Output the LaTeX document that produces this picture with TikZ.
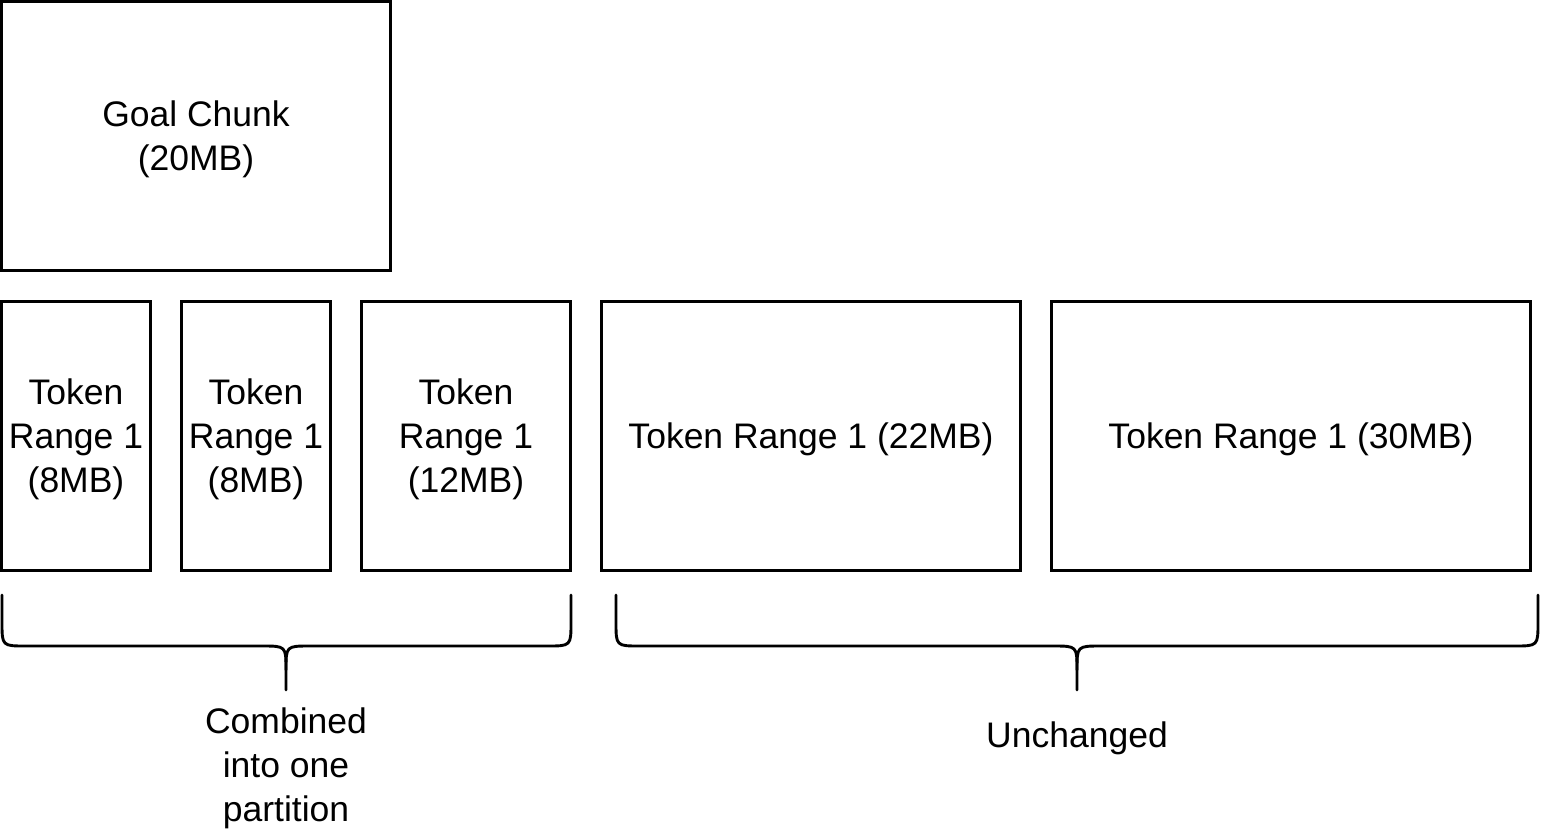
\documentclass[tikz,border=0pt]{standalone}
\usepackage{fontspec}
\setmainfont{Liberation Sans}
\begin{document}
\begin{tikzpicture}[x=0.5pt,y=-0.5pt,
  box/.style={draw=black,line width=1.45pt,inner sep=0pt,minimum height=134.5pt},
  lbl/.style={inner sep=0pt,align=center,font=\fontsize{17.75pt}{22pt}\selectfont},
  txt/.style={lbl,yshift=-1.5pt},
  brace/.style={draw=black,line width=1.45pt,line cap=round,line join=round}]
\useasboundingbox (0,0) rectangle (1542,831);
\node[box,minimum width=194.5pt,label={[txt]center:Goal Chunk\\(20MB)}] (goal) at (196,136) {};
\node[box,minimum width=74.5pt,label={[txt]center:Token\\Range 1\\(8MB)}] (t1) at (76,436) {};
\node[box,minimum width=74.5pt,label={[txt]center:Token\\Range 1\\(8MB)}] (t2) at (256,436) {};
\node[box,minimum width=104.5pt,label={[txt]center:Token\\Range 1\\(12MB)}] (t3) at (466,436) {};
\node[box,minimum width=209.5pt,label={[txt]center:Token Range 1 (22MB)}] (t4) at (811,436) {};
\node[box,minimum width=239.5pt,label={[txt]center:Token Range 1 (30MB)}] (t5) at (1291,436) {};
\node[txt] (comb) at (286,765) {Combined\\into one\\partition};
\node[txt] (unch) at (1077,735) {Unchanged};
\coordinate (b1tip) at (286,690);
\coordinate (b2tip) at (1077,690);
\draw[brace] (2,595) -- (2,622) .. controls (2,646) .. (26,646) -- (262,646)
  .. controls (286,646) .. (286,670) -- (b1tip);
\draw[brace] (571,595) -- (571,622) .. controls (571,646) .. (547,646) -- (310,646)
  .. controls (286,646) .. (286,670);
\draw[brace] (616,595) -- (616,622) .. controls (616,646) .. (640,646) -- (1053,646)
  .. controls (1077,646) .. (1077,670) -- (b2tip);
\draw[brace] (1538,595) -- (1538,622) .. controls (1538,646) .. (1514,646) -- (1101,646)
  .. controls (1077,646) .. (1077,670);
\end{tikzpicture}
\end{document}
